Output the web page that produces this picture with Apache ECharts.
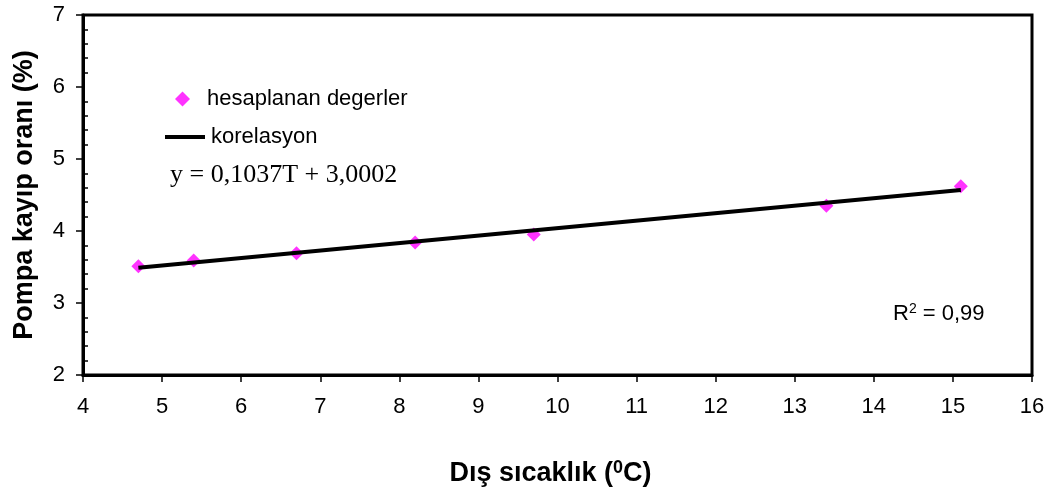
<!DOCTYPE html>
<html>
<head>
<meta charset="utf-8">
<script src="https://cdn.jsdelivr.net/npm/echarts@6/dist/echarts.min.js"></script>
<style>html,body{margin:0;padding:0;background:#fff}#c{width:1057px;height:501px}</style>
</head>
<body>
<div id="c"></div>
<script>
// Data
const tempX = [4.7, 5.4, 6.7, 8.2, 9.7, 13.4, 15.1];
const lossY = [3.51, 3.59, 3.69, 3.84, 3.95, 4.35, 4.62];
const trendX = [4.7, 15.1];
const trendY = [3.49, 4.57];
const seriesNames = ['hesaplanan degerler', 'korelasyon'];
const equationText = 'y = 0,1037T + 3,0002';
const r2Text = '0,99';

const chart = echarts.init(document.getElementById('c'), null, {renderer: 'canvas'});
const font = 'Liberation Sans, Arial, sans-serif';
chart.setOption({
  backgroundColor: '#fff',
  animation: false,
  grid: {left: 83, top: 15, right: 25, bottom: 126, show: true, borderColor: '#000', borderWidth: 3, backgroundColor: 'transparent'},
  legend: [
    {data: [seriesNames[0]], left: 170, top: 83, orient: 'vertical', icon: 'diamond', itemWidth: 15, itemHeight: 15,
     textStyle: {fontFamily: font, fontSize: 22, color: '#000', padding: [0, 0, 0, 12]}},
    {data: [seriesNames[1]], left: 160, top: 121, orient: 'vertical', icon: 'rect', itemWidth: 40, itemHeight: 4,
     itemStyle: {color: '#000'},
     textStyle: {fontFamily: font, fontSize: 22, color: '#000', padding: [0, 0, 0, 1]}}
  ],
  xAxis: {
    type: 'value', min: 4, max: 16, interval: 1,
    axisLine: {lineStyle: {color: '#000', width: 3}},
    axisTick: {length: 7, lineStyle: {color: '#000', width: 1.5}},
    axisLabel: {fontFamily: font, fontSize: 22, color: '#000', margin: 21},
    splitLine: {show: false},
    name: '{b|Dış sıcaklık (}{s|0}{b|C)}', nameLocation: 'middle', nameGap: 84,
    nameTextStyle: {padding: [0, 14, 0, 0],
                    rich: {b: {fontFamily: font, fontSize: 27, fontWeight: 'bold', color: '#000'},
                           s: {fontFamily: font, fontSize: 18, fontWeight: 'bold', color: '#000', verticalAlign: 'top', padding: [0,0,12,0]}}}
  },
  yAxis: {
    type: 'value', min: 2, max: 7, interval: 1,
    axisLine: {lineStyle: {color: '#000', width: 3}},
    axisTick: {length: 7, lineStyle: {color: '#000', width: 1.5}},
    minorTick: {show: true, splitNumber: 5, length: -5, lineStyle: {color: '#000', width: 1.5}},
    axisLabel: {fontFamily: font, fontSize: 22, color: '#000', margin: 18},
    splitLine: {show: false},
    name: 'Pompa kayıp oranı (%)', nameLocation: 'middle', nameGap: 45,
    nameTextStyle: {fontFamily: font, fontSize: 27, fontWeight: 'bold', color: '#000'}
  },
  series: [
    {name: seriesNames[0], type: 'scatter', symbol: 'diamond', symbolSize: 14,
     itemStyle: {color: '#ff00ff'}, data: tempX.map((x, i) => [x, lossY[i]]), z: 2},
    {name: seriesNames[1], type: 'line', symbol: 'none', lineStyle: {color: '#000', width: 4},
     itemStyle: {color: '#000'}, data: trendX.map((x, i) => [x, trendY[i]]), z: 3}
  ],
  graphic: [
    {type: 'text', left: 170, top: 162, style: {text: equationText, font: '26px "Liberation Serif", "Times New Roman", serif', fill: '#000'}},
    {type: 'text', left: 893, top: 302, style: {text: '{a|R}{s|2}{a| = ' + r2Text + '}', rich: {a: {fontFamily: font, fontSize: 22, color: '#000'}, s: {fontFamily: font, fontSize: 14, color: '#000', verticalAlign: 'top', padding: [0,0,9,0]}}}}
  ]
});
</script>
</body>
</html>
